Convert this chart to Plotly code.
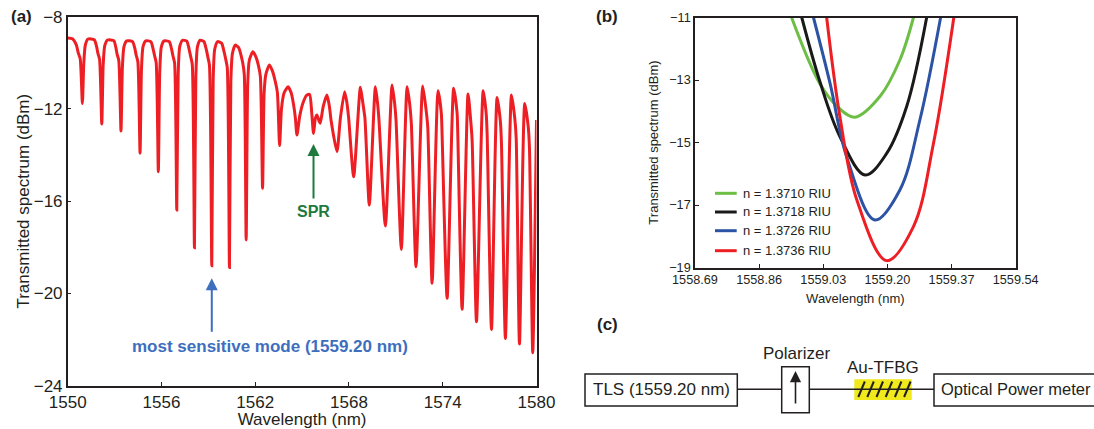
import plotly.graph_objects as go

W, H = 1094, 429
FONT = "Liberation Sans, Arial, Helvetica, sans-serif"
INK = "#231f20"

# ---------------- panel (a): transmitted spectrum ----------------
wl_a = [1550.00, 1550.30, 1550.55, 1550.68, 1550.80, 1550.94,
        1551.03, 1551.13, 1551.30, 1551.70, 1551.85, 1551.93, 1552.04, 1552.18,
        1552.27, 1552.37, 1552.55, 1552.95, 1553.08, 1553.16, 1553.27, 1553.41,
        1553.50, 1553.60, 1553.78, 1554.15, 1554.30, 1554.38, 1554.49, 1554.63,
        1554.72, 1554.82, 1555.00, 1555.32, 1555.46, 1555.55, 1555.66, 1555.80,
        1555.89, 1555.99, 1556.17, 1556.50, 1556.64, 1556.73, 1556.84, 1556.98,
        1557.07, 1557.17, 1557.35, 1557.62, 1557.76, 1557.86, 1557.97, 1558.11,
        1558.20, 1558.30, 1558.48, 1558.72, 1558.86, 1558.96, 1559.07, 1559.22,
        1559.31, 1559.41, 1559.60, 1559.85, 1560.00, 1560.10, 1560.21, 1560.35,
        1560.44, 1560.54, 1560.72, 1560.95, 1561.10, 1561.20, 1561.30, 1561.42,
        1561.52, 1561.62, 1561.85, 1562.05, 1562.20, 1562.33, 1562.47,
        1562.57, 1562.68, 1562.91, 1563.10, 1563.28, 1563.42, 1563.56,
        1563.68, 1563.85, 1564.10, 1564.30, 1564.45, 1564.57, 1564.67,
        1564.85, 1565.05, 1565.30, 1565.48, 1565.62, 1565.73,
        1565.85, 1565.95, 1566.10, 1566.16, 1566.35, 1566.59, 1566.75, 1566.85, 1567.23,
        1567.45, 1567.72, 1567.86, 1567.98, 1568.30,
        1568.73, 1568.88, 1569.02, 1569.30,
        1569.69, 1569.83, 1569.92, 1570.33,
        1570.76, 1570.92, 1571.01, 1571.35,
        1571.72, 1571.88, 1571.99, 1572.29,
        1572.72, 1572.93, 1573.04, 1573.32,
        1573.70, 1573.91, 1573.96, 1574.28,
        1574.70, 1574.92, 1574.96, 1575.24,
        1575.62, 1575.77, 1575.88, 1576.16,
        1576.59, 1576.78, 1576.84, 1577.12,
        1577.48, 1577.69, 1577.76, 1578.01,
        1578.40, 1578.61, 1578.70, 1578.91,
        1579.25, 1579.47, 1579.55, 1579.76,
        1580.00]
db_a = [-8.92, -8.96, -9.22, -9.58, -9.82, -11.76,
        -10.00, -9.22, -8.97, -9.00, -9.30, -9.58, -9.85, -12.65,
        -10.10, -9.26, -9.01, -9.04, -9.33, -9.62, -9.90, -12.96,
        -10.20, -9.30, -9.05, -9.08, -9.38, -9.66, -9.95, -13.92,
        -10.30, -9.30, -9.05, -9.08, -9.38, -9.66, -9.98, -14.72,
        -10.40, -9.32, -9.05, -9.08, -9.38, -9.68, -10.00, -16.38,
        -10.50, -9.30, -9.02, -9.06, -9.38, -9.70, -10.05, -18.02,
        -10.60, -9.32, -9.02, -9.08, -9.40, -9.72, -10.10, -18.80,
        -10.70, -9.40, -9.08, -9.15, -9.50, -9.80, -10.20, -18.88,
        -10.80, -9.60, -9.23, -9.35, -9.70, -10.00, -10.50, -17.68,
        -10.90, -9.90, -9.52, -9.75, -10.10, -10.60, -15.44,
        -11.30, -10.50, -10.09, -10.35, -10.80, -11.30, -13.59,
        -12.00, -11.30, -11.04, -11.30, -11.80, -12.40, -13.13,
        -12.30, -11.75, -11.40, -11.37, -12.20, -13.06,
        -12.40, -12.26, -12.55, -12.62, -11.90, -11.40, -11.90, -12.48, -13.85,
        -12.40, -11.25, -11.70, -12.40, -14.94,
        -11.06, -11.70, -12.40, -16.17,
        -11.04, -11.76, -12.48, -17.08,
        -10.96, -11.75, -12.48, -18.09,
        -11.04, -11.76, -12.62, -18.84,
        -11.00, -12.02, -12.77, -19.56,
        -11.21, -12.19, -13.13, -20.21,
        -11.10, -12.19, -12.99, -20.69,
        -11.35, -12.34, -13.35, -21.23,
        -11.21, -12.19, -13.06, -21.56,
        -11.50, -12.55, -13.56, -21.95,
        -11.40, -12.41, -13.27, -22.19,
        -11.76, -12.77, -13.71, -22.57,
        -12.48]
a_xticks = [1550, 1556, 1562, 1568, 1574, 1580]
a_yticks = [-24, -20, -16, -12, -8]
sensitive_wl, sensitive_db = 1559.22, -19.34
spr_wl, spr_db = 1565.73, -13.52

# ---------------- panel (b): spectra near 1559.20 nm ----------------
b_labels = ["n = 1.3710 RIU", "n = 1.3718 RIU", "n = 1.3726 RIU", "n = 1.3736 RIU"]
b_colors = ["rgb(108,190,69)", "rgb(26,26,26)", "rgb(45,84,164)", "rgb(237,31,36)"]
wl_1710 = [1558.946, 1559.021, 1559.070, 1559.114, 1559.180, 1559.233, 1559.269]
db_1710 = [-11.0, -13.12, -13.88, -14.19, -13.53, -12.36, -11.0]
wl_1718 = [1558.973, 1559.021, 1559.074, 1559.141, 1559.198, 1559.251, 1559.304]
db_1718 = [-11.0, -13.05, -14.81, -16.04, -15.35, -13.85, -11.0]
wl_1726 = [1559.004, 1559.048, 1559.092, 1559.167, 1559.233, 1559.286, 1559.341]
db_1726 = [-11.0, -13.11, -15.46, -17.48, -16.52, -14.28, -11.0]
wl_1736 = [1559.039, 1559.074, 1559.119, 1559.198, 1559.269, 1559.322, 1559.376]
db_1736 = [-11.0, -14.17, -16.84, -18.78, -17.69, -15.03, -11.0]
b_xticks = [1558.69, 1558.86, 1559.03, 1559.20, 1559.37, 1559.54]
b_yticks = [-19, -17, -15, -13, -11]


def px(x):
    return x / W


def py(y):
    return 1 - y / H


fig = go.Figure()
fig.add_trace(go.Scatter(x=wl_a, y=db_a, mode="lines", xaxis="x", yaxis="y",
                         line=dict(color="rgb(237,31,36)", width=3, shape="spline", smoothing=0.6),
                         showlegend=False, hoverinfo="skip"))
b_wl = [wl_1710, wl_1718, wl_1726, wl_1736]
b_db = [db_1710, db_1718, db_1726, db_1736]
for lab, col, xs, ys in zip(b_labels, b_colors, b_wl, b_db):
    fig.add_trace(go.Scatter(x=xs, y=ys, mode="lines", name=lab, xaxis="x2", yaxis="y2",
                             line=dict(color=col, width=3, shape="spline", smoothing=1),
                             showlegend=False))

axis_common = dict(showline=True, linecolor=INK, linewidth=1.5, mirror=True, showgrid=False,
                   zeroline=False, ticks="inside", tickcolor=INK, tickwidth=1.2, automargin=False)

fig.update_layout(
    width=W, height=H, margin=dict(l=0, r=0, t=0, b=0, autoexpand=False),
    paper_bgcolor="white", plot_bgcolor="white",
    font=dict(family=FONT, color=INK),
    xaxis=dict(domain=[px(67.7), px(536.5)], range=[1550, 1580], tickvals=a_xticks, anchor="y",
               ticklen=4, tickfont=dict(size=17),
               title=dict(text="Wavelength (nm)", font=dict(size=17), standoff=7), **axis_common),
    yaxis=dict(domain=[py(385.7), py(16.7)], range=[-24, -8], tickvals=a_yticks, anchor="x",
               ticklen=4, tickfont=dict(size=17),
               title=dict(text="Transmitted spectrum (dBm)", font=dict(size=17), standoff=0),
               **axis_common),
    xaxis2=dict(domain=[px(695), px(1015.7)], range=[1558.69, 1559.54], tickvals=b_xticks,
                ticktext=[f"{v:.2f}" for v in b_xticks], anchor="y2", ticklen=4,
                tickfont=dict(size=12.7),
                title=dict(text="Wavelength (nm)", font=dict(size=13), standoff=7), **axis_common),
    yaxis2=dict(domain=[py(267.5), py(17.5)], range=[-19, -11], tickvals=b_yticks, anchor="x2",
                ticklen=4, tickfont=dict(size=12.7),
                title=dict(text="Transmitted spectrum (dBm)", font=dict(size=13), standoff=8),
                **axis_common),
)

ann = []
# panel letters
for t, x, y in [("(a)", 21, 17), ("(b)", 607, 17), ("(c)", 607, 324)]:
    ann.append(dict(text=f"<b>{t}</b>", x=px(x), y=py(y), xref="paper", yref="paper",
                    showarrow=False, font=dict(size=17, color=INK), xanchor="center", yanchor="middle"))
# panel (a) annotations
blue = "rgb(62,110,190)"
green = "rgb(30,122,62)"
ann.append(dict(x=sensitive_wl, y=sensitive_db, xref="x", yref="y", ax=0, ay=55, text="",
                showarrow=True, arrowhead=2, arrowsize=1.2, arrowwidth=2, arrowcolor=blue))
ann.append(dict(x=1562.97, y=-22.31, xref="x", yref="y", showarrow=False,
                text="<b>most sensitive mode (1559.20 nm)</b>", font=dict(size=17, color=blue)))
ann.append(dict(x=spr_wl, y=spr_db, xref="x", yref="y", ax=0, ay=56, text="",
                showarrow=True, arrowhead=2, arrowsize=1.2, arrowwidth=2, arrowcolor=green))
ann.append(dict(x=spr_wl, y=-16.46, xref="x", yref="y", showarrow=False,
                text="<b>SPR</b>", font=dict(size=16, color=green)))

shapes = []
# manual legend for panel (b)
for i, (lab, col) in enumerate(zip(b_labels, b_colors)):
    yy = [193.3, 212, 230.7, 250.7][i]
    shapes.append(dict(type="line", xref="paper", yref="paper", x0=px(715), x1=px(736.7),
                       y0=py(yy), y1=py(yy), line=dict(color=col, width=3)))
    ann.append(dict(text=lab, x=px(740.7), y=py(yy), xref="paper", yref="paper", showarrow=False,
                    xanchor="left", yanchor="middle", font=dict(size=13, color=INK)))

# panel (c) schematic
LW = 1.5
def rect(x0, y0, x1, y1, fill=None, lw=LW):
    d = dict(type="rect", xref="paper", yref="paper", x0=px(x0), x1=px(x1), y0=py(y1), y1=py(y0),
             line=dict(color=INK, width=lw))
    if fill:
        d["fillcolor"] = fill
        d["line"] = dict(width=0)
    return d

def line(x0, y0, x1, y1, lw=LW):
    return dict(type="line", xref="paper", yref="paper", x0=px(x0), x1=px(x1), y0=py(y0), y1=py(y1),
                line=dict(color=INK, width=lw))

shapes.append(rect(585, 374, 737.3, 406))
shapes.append(line(737.3, 389.3, 781.7, 389.3))
shapes.append(rect(781.7, 366.7, 809.3, 412.7))
shapes.append(rect(854.3, 379.3, 911.7, 400, fill="rgb(240,233,28)"))
shapes.append(line(809.3, 389.3, 934, 389.3))
for xb in [858.3, 867.3, 876.5, 885.7, 894.9, 904.1]:
    shapes.append(line(xb, 397, xb + 6.5, 381.5, lw=2))
shapes.append(rect(934, 374, 1110, 406))

ann.append(dict(x=px(795.5), y=py(371), xref="paper", yref="paper", ax=0, ay=34, text="",
                showarrow=True, arrowhead=2, arrowsize=1.4, arrowwidth=1.6, arrowcolor=INK))
for t, x, y, anc, fs in [("TLS (1559.20 nm)", 661, 389.3, "center", 17),
                         ("Polarizer", 796.7, 353.3, "center", 17),
                         ("Au-TFBG", 882.7, 367.7, "center", 17),
                         ("Optical Power meter", 939, 389.3, "left", 16.5)]:
    ann.append(dict(text=t, x=px(x), y=py(y), xref="paper", yref="paper", showarrow=False,
                    xanchor=anc, yanchor="middle", font=dict(size=fs, color=INK)))

fig.update_layout(annotations=ann, shapes=shapes)
fig.write_html("out.html", config={"displayModeBar": False},
               post_script="document.body.style.margin='0px';")
